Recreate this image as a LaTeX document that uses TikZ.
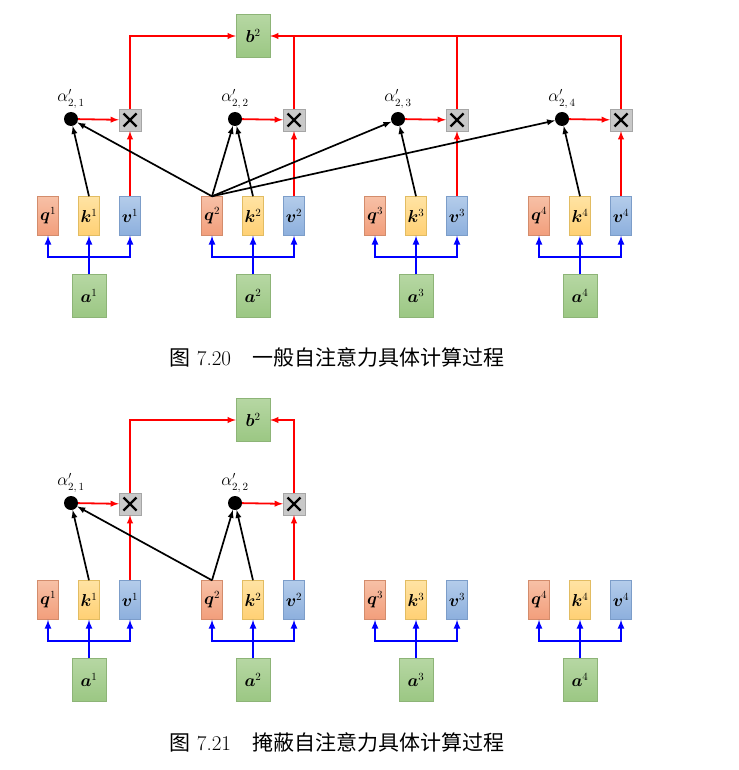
\documentclass[tikz,border=0pt]{standalone}
\usepackage{bm}
\usepackage{fontspec}
\newfontfamily\cjk{Noto Sans CJK SC}
\usetikzlibrary{positioning}

\definecolor{qtop}{HTML}{F7C0A6}
\definecolor{qbot}{HTML}{F29E7B}
\definecolor{qline}{HTML}{D38C6C}
\definecolor{ktop}{HTML}{FFE3A3}
\definecolor{kbot}{HTML}{FFD074}
\definecolor{kline}{HTML}{E2BC62}
\definecolor{vtop}{HTML}{B3CCEA}
\definecolor{vbot}{HTML}{8DAFDD}
\definecolor{vline}{HTML}{7C9DC9}
\definecolor{gtop}{HTML}{B6D7A3}
\definecolor{gbot}{HTML}{9BC783}
\definecolor{gline}{HTML}{8DB477}
\definecolor{xfill}{HTML}{C8C8C8}
\definecolor{xline}{HTML}{A6A6A6}

\begin{document}
\begin{tikzpicture}[x=1pt,y=-1pt,>=latex,font=\fontsize{16}{19}\selectfont,
  cell/.style={draw,minimum width=21pt,minimum height=39pt,inner sep=0pt},
  qnode/.style={cell,draw=qline,top color=qtop,bottom color=qbot},
  knode/.style={cell,draw=kline,top color=ktop,bottom color=kbot},
  vnode/.style={cell,draw=vline,top color=vtop,bottom color=vbot},
  anode/.style={cell,minimum width=34pt,minimum height=43pt,draw=gline,top color=gtop,bottom color=gbot},
  dotnode/.style={circle,fill=black,minimum size=14pt,inner sep=0pt},
  xnode/.style={draw=xline,fill=xfill,minimum size=22pt,inner sep=0pt,
    path picture={\draw[black,line width=2.4pt]
      ([shift={(-6.5,-6.5)}]path picture bounding box.center) -- ([shift={(6.5,6.5)}]path picture bounding box.center)
      ([shift={(-6.5,6.5)}]path picture bounding box.center) -- ([shift={(6.5,-6.5)}]path picture bounding box.center);}},
  bluewire/.style={blue,line width=2pt},
  redwire/.style={red,line width=1.8pt},
  blackwire/.style={black,line width=1.7pt}]
  \useasboundingbox (0,0) rectangle (738,770);

  % general self-attention
  \node[anode] (tb) at (253,36) {$\bm{b}^2$};
  \foreach \i/\x in {1/48,2/212,3/375,4/539} {
    \node[qnode] (tq\i) at (\x,216) {$\bm{q}^{\i}$};
    \node[knode] (tk\i) at (\x+41,216) {$\bm{k}^{\i}$};
    \node[vnode] (tv\i) at (\x+82,216) {$\bm{v}^{\i}$};
    \node[anode] (ta\i) at (\x+41,296) {$\bm{a}^{\i}$};
    \node[dotnode] (td\i) at (\x+23,119) {};
    \node[above=0pt of td\i] (tl\i) {$\alpha'_{2,\,\i}$};
    \node[xnode] (tx\i) at (\x+82,120) {};
    % input
    \draw[bluewire,->] (ta\i) -- (tk\i);
    \draw[bluewire,<->] (tq\i) |- (\x+41,257) -| (tv\i);
    % weight
    \draw[redwire,->] (td\i) -- (tx\i);
    \draw[redwire,->] (tv\i) -- (tx\i);
    \draw[blackwire,->] (tk\i.north) -- (td\i);
  };
  \foreach \j in {1,...,4} {
    \draw[blackwire,->] (tq2.north) -- (td\j);
  };
  % sum
  \draw[redwire,->] (tx1) |- (tb);
  \draw[redwire,->] (tx4) |- (tb);
  \draw[redwire] (tx2) -- (tx2 |- tb);
  \draw[redwire] (tx3) -- (tx3 |- tb);
  \node[anchor=west,font=\fontsize{21}{25}\selectfont] (tcap) at (166,357)
    {{\cjk 图}\ 7.20\quad{\cjk 一般自注意力具体计算过程}};

  % masked self-attention
  \begin{scope}[shift={(0,384)}]
    \node[anode] (mb) at (253,36) {$\bm{b}^2$};
    \foreach \i/\x in {1/48,2/212,3/375,4/539} {
      \node[qnode] (mq\i) at (\x,216) {$\bm{q}^{\i}$};
      \node[knode] (mk\i) at (\x+41,216) {$\bm{k}^{\i}$};
      \node[vnode] (mv\i) at (\x+82,216) {$\bm{v}^{\i}$};
      \node[anode] (ma\i) at (\x+41,296) {$\bm{a}^{\i}$};
      \draw[bluewire,->] (ma\i) -- (mk\i);
      \draw[bluewire,<->] (mq\i) |- (\x+41,257) -| (mv\i);
    };
    \foreach \i/\x in {1/48,2/212} {
      \node[dotnode] (md\i) at (\x+23,119) {};
      \node[above=0pt of md\i] (ml\i) {$\alpha'_{2,\,\i}$};
      \node[xnode] (mx\i) at (\x+82,120) {};
      \draw[redwire,->] (md\i) -- (mx\i);
      \draw[redwire,->] (mv\i) -- (mx\i);
      \draw[blackwire,->] (mk\i.north) -- (md\i);
      \draw[blackwire,->] (mq2.north) -- (md\i);
    };
    \draw[redwire,->] (mx1) |- (mb);
    \draw[redwire,->] (mx2) |- (mb);
  \end{scope}
  \node[anchor=west,font=\fontsize{21}{25}\selectfont] (mcap) at (166,742)
    {{\cjk 图}\ 7.21\quad{\cjk 掩蔽自注意力具体计算过程}};
\end{tikzpicture}
\end{document}
